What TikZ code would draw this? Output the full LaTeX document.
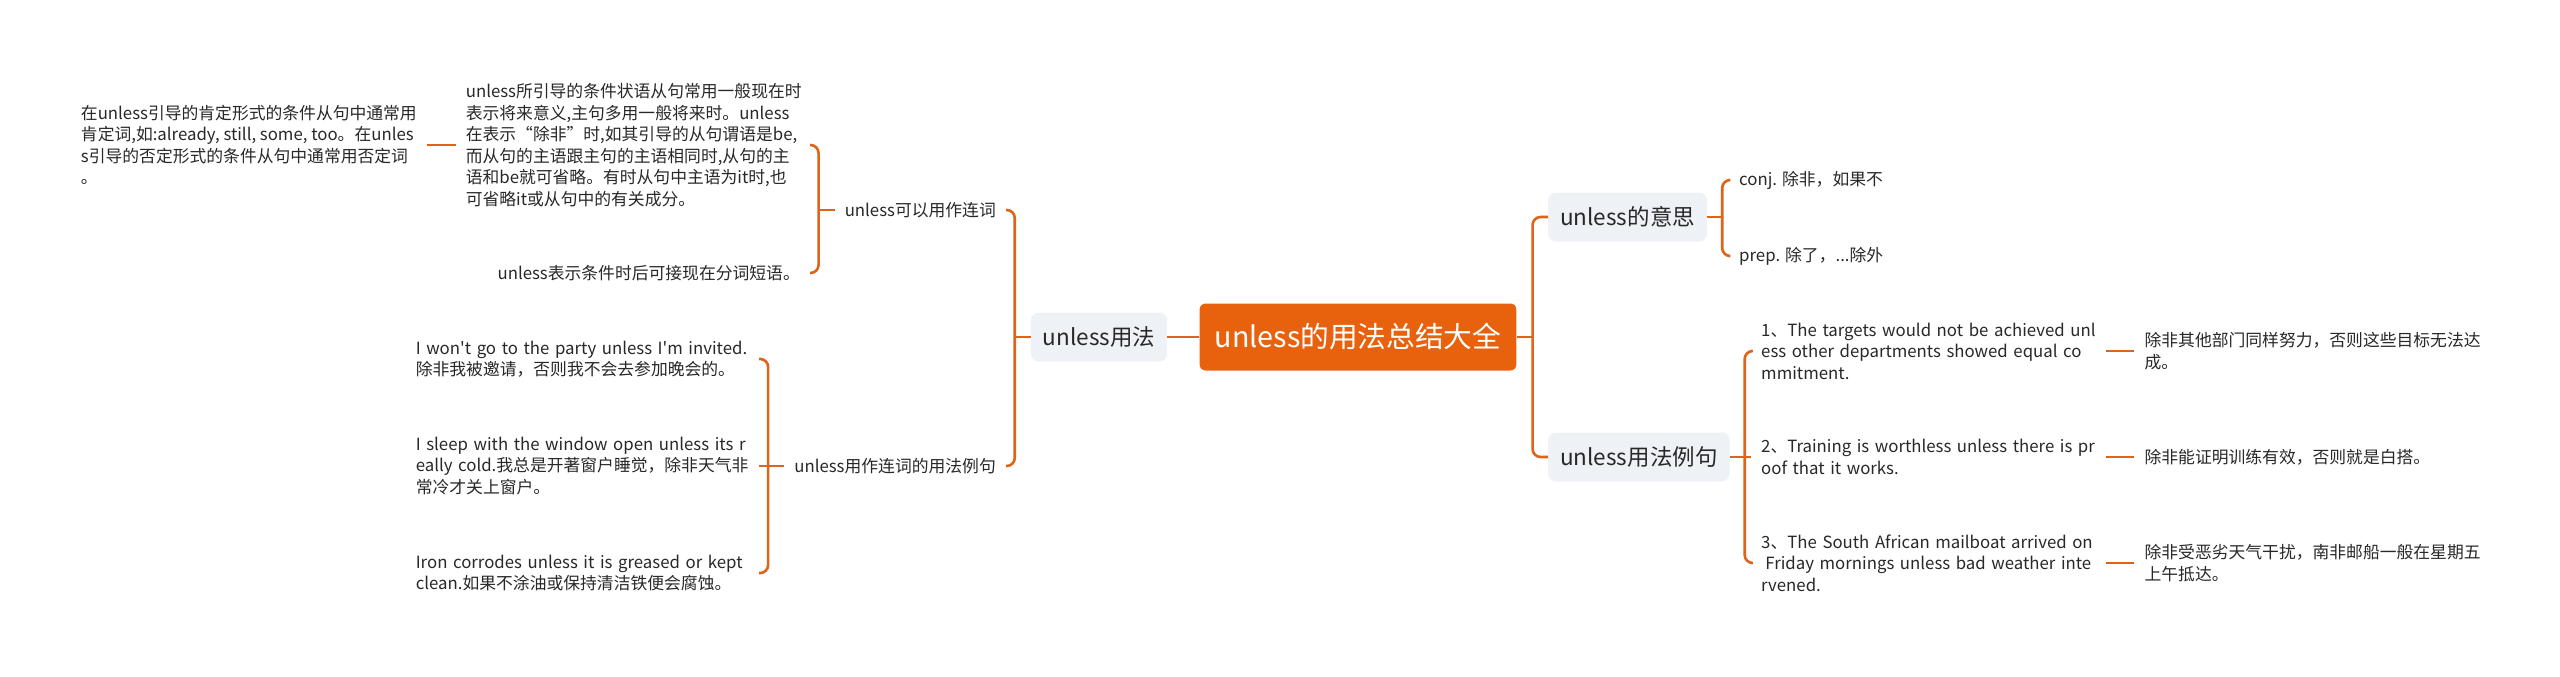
\documentclass[tikz,border=0pt]{standalone}
\usepackage{fontspec}
\newfontfamily\cjk{Noto Sans CJK SC}
\usetikzlibrary{positioning}
\definecolor{OR}{RGB}{232,98,14}
\definecolor{LN}{RGB}{222,100,28}
\definecolor{SG}{RGB}{238,241,245}
\definecolor{TX}{RGB}{40,40,40}

\begin{document}
\begin{tikzpicture}[x=1pt, y=-1pt,
  hub/.style={fill=OR, rounded corners=6pt, text=white, font=\cjk\fontsize{28.7}{34}\selectfont, inner xsep=15pt, minimum height=67pt},
  sub/.style={fill=SG, rounded corners=8pt, text=TX, font=\cjk\fontsize{22.5}{27}\selectfont, inner xsep=12pt, minimum height=49pt},
  leaf/.style={text=TX, font=\cjk\fontsize{16.8}{21.5}\selectfont, inner xsep=10pt, inner ysep=3pt, align=left},
  link/.style={draw=LN, line width=2.6pt, rounded corners=8pt}
]
\fill[white] (0,0) rectangle (2560,677);
\useasboundingbox (0,0) rectangle (2560,677);

% Root and main branches
\node[hub] (root) at (1358,337) {unless的用法总结大全};
\node[sub, left=32pt of root] (use) {unless用法};
\node[sub, anchor=west] (mean) at (1548,217) {unless的意思};
\node[sub, anchor=west] (ex) at (1548,457) {unless用法例句};

% Left side
\node[leaf, anchor=east] (conj) at (1006,210) {unless可以用作连词};
\node[leaf, anchor=east] (cases) at (1006,466) {unless用作连词的用法例句};
\node[leaf, anchor=east, text width=334pt] (rule) at (810,145)
  {unless所引导的条件状语从句常用一般现在时\\表示将来意义,主句多用一般将来时。unless\\在表示“除非”时,如其引导的从句谓语是be,\\而从句的主语跟主句的主语相同时,从句的主\\语和be就可省略。有时从句中主语为it时,也\\可省略it或从句中的有关成分。};
\node[leaf, anchor=east] (part) at (810,273) {unless表示条件时后可接现在分词短语。};
\node[leaf, anchor=east] (neg) at (427,145)
  {在unless引导的肯定形式的条件从句中通常用\\肯定词,如:already, still, some, too。在unles\\s引导的否定形式的条件从句中通常用否定词\\。};
\node[leaf, anchor=east, text width=333pt] (ex1) at (759,359)
  {I won't go to the party unless I'm invited.\\除非我被邀请，否则我不会去参加晚会的。};
\node[leaf, anchor=east, text width=333pt] (ex2) at (759,466)
  {I sleep with the window open unless its r\\eally cold.我总是开著窗户睡觉，除非天气非\\常冷才关上窗户。};
\node[leaf, anchor=east, text width=333pt] (ex3) at (759,573)
  {Iron corrodes unless it is greased or kept\\clean.如果不涂油或保持清洁铁便会腐蚀。};

% Right side
\node[leaf, anchor=west] (m1) at (1729,180) {conj. 除非，如果不};
\node[leaf, anchor=west] (m2) at (1729,256) {prep. 除了，...除外};
\node[leaf, anchor=west, text width=335pt] (s1) at (1751,351)
  {1、The targets would not be achieved unl\\ess other departments showed equal co\\mmitment.};
\node[leaf, anchor=west, text width=335pt] (s2) at (1751,457)
  {2、Training is worthless unless there is pr\\oof that it works.};
\node[leaf, anchor=west, text width=335pt] (s3) at (1751,563)
  {3、The South African mailboat arrived on\\\hspace*{0.25em}Friday mornings unless bad weather inte\\rvened.};
\node[leaf, right=28pt of s1, text width=340pt] (t1) {除非其他部门同样努力，否则这些目标无法达\\成。};
\node[leaf, right=28pt of s2, text width=340pt] (t2) {除非能证明训练有效，否则就是白搭。};
\node[leaf, right=28pt of s3, text width=340pt] (t3) {除非受恶劣天气干扰，南非邮船一般在星期五\\上午抵达。};

% Junctions
\coordinate[left=16pt of use.west] (jU);
\coordinate[left=16pt of conj.west] (jC);
\coordinate[left=16pt of cases.west] (jE);
\coordinate[right=16pt of root.east] (jR);
\coordinate[right=15pt of mean.east] (jM);
\coordinate[right=15pt of ex.east] (jX);

% Connectors
\draw[link] (root.west) -- (use.east);
\draw[link] (use.west) -- (jU);
\foreach \c in {conj,cases} \draw[link] (jU) |- (\c.east);
\draw[link] (conj.west) -- (jC);
\foreach \c in {rule,part} \draw[link] (jC) |- (\c.east);
\draw[link] (rule.west) -- (neg.east);
\draw[link] (cases.west) -- (jE);
\foreach \c in {ex1,ex3} \draw[link] (jE) |- (\c.east);
\draw[link] (jE) -- (ex2.east);

\draw[link] (root.east) -- (jR);
\foreach \c in {mean,ex} \draw[link] (jR) |- (\c.west);
\draw[link] (mean.east) -- (jM);
\foreach \c in {m1,m2} \draw[link] (jM) |- (\c.west);
\draw[link] (ex.east) -- (jX);
\foreach \c in {s1,s3} \draw[link] (jX) |- (\c.west);
\draw[link] (jX) -- (s2.west);
\foreach \i in {1,2,3} \draw[link] (s\i.east) -- (t\i.west);
\end{tikzpicture}
\end{document}
